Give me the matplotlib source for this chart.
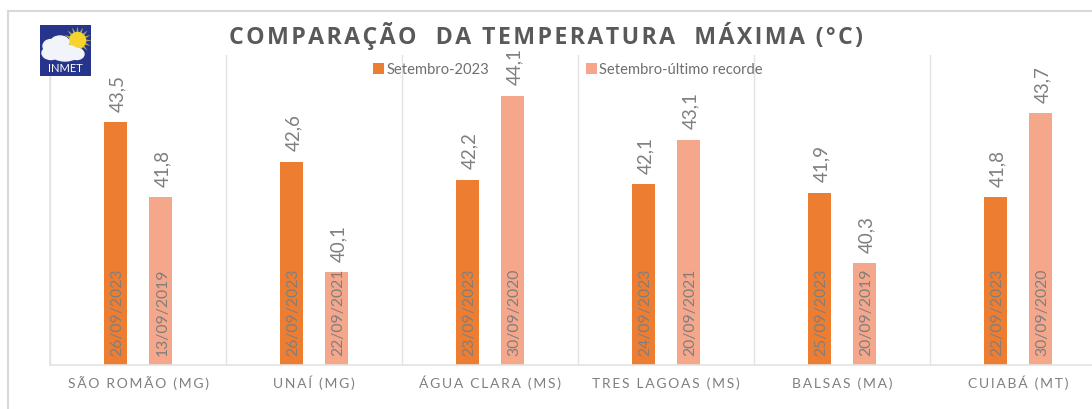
# comparação da temperatura máxima - INMET
import matplotlib
matplotlib.use("Agg")
import matplotlib.pyplot as plt
import numpy as np
from matplotlib.lines import Line2D
from matplotlib.patches import Ellipse, Rectangle

plt.rcParams['font.family'] = ['Lato', 'DejaVu Sans']

stations = ["SÃO ROMÃO (MG)", "UNAÍ (MG)", "ÁGUA CLARA (MS)",
            "TRES LAGOAS (MS)", "BALSAS (MA)", "CUIABÁ (MT)"]
temp_2023 = [43.5, 42.6, 42.2, 42.1, 41.9, 41.8]
temp_record = [41.8, 40.1, 44.1, 43.1, 40.3, 43.7]
dates_2023 = ["26/09/2023", "26/09/2023", "23/09/2023",
              "24/09/2023", "25/09/2023", "22/09/2023"]
dates_record = ["13/09/2019", "22/09/2021", "30/09/2020",
                "20/09/2021", "20/09/2019", "30/09/2020"]

ORANGE = "#ED7D31"
SALMON = "#F4A78A"
GRAY = "#7F7F7F"
GRID = "#E3E3E3"
W, H = 1092, 409


def spaced(s, sep="\u200a"):
    return sep.join(s)


fig = plt.figure(figsize=(W / 100, H / 100), dpi=100)
# o eixo passa da borda direita, a última categoria fica cortada
ax = fig.add_axes([50 / W, 1 - 365 / H, 1056 / W, 310 / H])

x = np.arange(len(stations))
offset, width = 0.128, 0.136
bars_a = ax.bar(x - offset, temp_2023, width, color=ORANGE, label="Setembro-2023")
bars_b = ax.bar(x + offset, temp_record, width, color=SALMON, label="Setembro-último recorde")

ax.set_xlim(-0.5, 5.5)
ax.set_ylim(38, 45.02)
ax.set_yticks([])
ax.set_xticks(x)
ax.set_xticklabels([spaced(s, "\u2009") for s in stations], fontsize=10, color=GRAY, va="baseline")
ax.set_xticks(np.arange(-0.5, 6), minor=True)
ax.tick_params(axis="x", which="both", length=0, pad=16.5)
ax.grid(axis="x", which="minor", color=GRID, lw=1)
ax.set_axisbelow(True)
for side in ["top", "right"]:
    ax.spines[side].set_visible(False)
for side in ["left", "bottom"]:
    ax.spines[side].set_color(GRID)
    ax.spines[side].set_linewidth(1.2)

for bars, temps, dates in [(bars_a, temp_2023, dates_2023), (bars_b, temp_record, dates_record)]:
    for bar, t, d in zip(bars, temps, dates):
        cx = bar.get_x() + bar.get_width() / 2
        ax.annotate(f"{t:.1f}".replace(".", ","), (cx, t), xytext=(1.5, 7.5),
                    textcoords="offset points", rotation=90, ha="center", va="bottom",
                    fontsize=13.5, color=GRAY, annotation_clip=False)
        ax.annotate(d, (cx, 38), xytext=(1.5, 6.5), textcoords="offset points",
                    rotation=90, ha="center", va="bottom", fontsize=11.3, color=GRAY)

ax.legend(loc="center left", bbox_to_anchor=(323 / 1056, 1 - 15 / 310), ncols=2, frameon=False,
          fontsize=10.6, labelcolor="#6E6E6E", handlelength=0.75, handleheight=0.75,
          handletextpad=0.15, columnspacing=6.6, borderpad=0, borderaxespad=0)

fig.text(546 / W, 1 - 36 / H, spaced("COMPARAÇÃO  DA TEMPERATURA  MÁXIMA (°C)"),
         family=["Open Sans", "DejaVu Sans"], fontweight="bold", fontsize=16.7, color="#595959",
         ha="center", va="center")

# moldura do gráfico
fig.add_artist(Line2D([8 / W, 8 / W], [0, 1 - 11 / H], color="#D9D9D9", lw=1.5))
fig.add_artist(Line2D([8 / W, 1], [1 - 11 / H, 1 - 11 / H], color="#D9D9D9", lw=1.5))

# logo INMET
logo = fig.add_axes([40 / W, 1 - 76 / H, 51 / W, 51 / H])
logo.set_xlim(0, 51)
logo.set_ylim(51, 0)
logo.axis("off")
logo.add_patch(Rectangle((0, 0), 51, 51, color="#27348B"))
logo.scatter([37], [15], s=420, marker=(16, 1, 0), color="#A9A650", linewidths=0, zorder=2)
logo.scatter([37], [15], s=130, color="#F6D32D", zorder=3)
for cx, cy, w, h in [(11, 21, 16, 13), (20, 17, 18, 12), (11, 28, 18, 13),
                     (25, 28, 28, 16), (37, 29, 14, 11)]:
    logo.add_patch(Ellipse((cx, cy), w, h, color="#F1F5FA", zorder=4))
logo.text(25.5, 44, "INMET", color="white", fontsize=8, ha="center", va="center", zorder=5)

fig.savefig("out.png", dpi=100)
